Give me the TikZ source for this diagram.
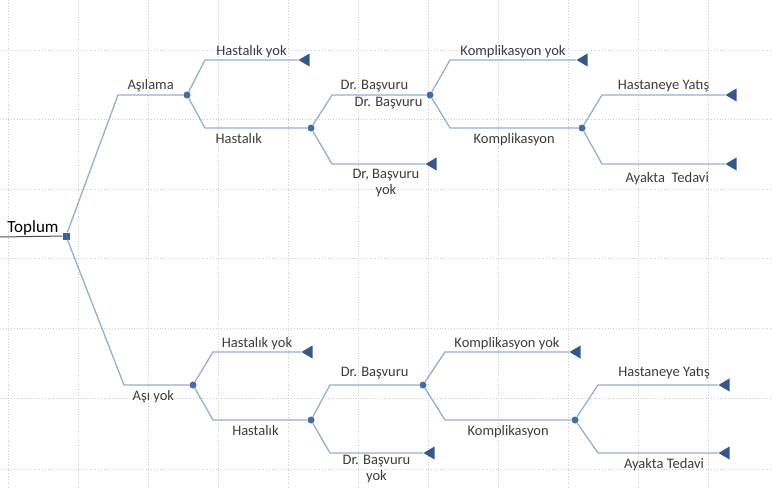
\documentclass[tikz,border=0pt]{standalone}
\usepackage{fontspec}
\setmainfont{Carlito}
\usetikzlibrary{shapes.geometric}
\definecolor{linecol}{RGB}{150,174,210}
\definecolor{dotcol}{RGB}{68,108,170}
\definecolor{tricol}{RGB}{52,88,140}
\definecolor{gridcol}{RGB}{205,205,205}
\definecolor{txtcol}{RGB}{60,60,60}
\tikzset{
  branch/.style={draw=linecol, line width=1.3pt},
  gridline/.style={draw=gridcol, dotted, line width=0.8pt},
  chance/.style={circle, fill=dotcol, inner sep=0pt, minimum size=7pt},
  rootbox/.style={rectangle, fill=dotcol!90!black, inner sep=0pt, minimum size=7pt},
  leaf/.style={isosceles triangle, shape border rotate=180, isosceles triangle stretches,
    fill=tricol, inner sep=0pt, minimum width=13pt, minimum height=11pt, anchor=apex},
  lbl/.style={font=\fontsize{14.5}{15.5}\selectfont, text=txtcol, inner sep=2pt},
}
\begin{document}
\begin{tikzpicture}[x=1pt,y=-1pt]
    \useasboundingbox (0,0) rectangle (772,488);
    % page grid
    \foreach \gx in {8,78,...,708}
        \draw[gridline] (\gx,0) -- (\gx,488);
    \foreach \gy in {50,119,189,258,328,398,469}
        \draw[gridline] (0,\gy) -- (772,\gy);

    % root
    \node[font=\fontsize{17}{18}\selectfont, inner sep=0pt] (toplum) at (33,228) {Toplum};
    \node[rootbox] (root) at (66,236) {};
    \coordinate (edge) at (0,237);
    \draw[gray!60!black, line width=1pt] (edge) -- (root);

    % upper tree: Asilama
    \node[chance] (a1) at (187,95) {};
    \node[leaf] (h1) at (298,60) {};
    \node[chance] (a2) at (311,128) {};
    \node[chance] (a3) at (430,95) {};
    \node[leaf] (h2) at (425,164) {};
    \node[leaf] (h3) at (576,60) {};
    \node[chance] (a4) at (582,128) {};
    \node[leaf] (h4) at (725,95) {};
    \node[leaf] (h5) at (725,164) {};

    \draw[branch] (root) -- ([xshift=-69pt]a1.center) -- node[lbl,above] {Aşılama} (a1);
    \draw[branch] (a1) -- ([xshift=18pt]a1.center |- h1.apex) -- node[lbl,above] {Hastalık yok} (h1.apex);
    \draw[branch] (a1) -- ([xshift=18pt]a1.center |- a2) -- node[lbl,below=3pt,pos=0.33] {Hastalık} (a2);
    \draw[branch] (a2) -- ([xshift=21pt]a2.center |- a3) -- node[lbl,above,pos=0.45] {Dr. Başvuru}
        node[lbl,below,pos=0.6] {Dr. Başvuru} (a3);
    \draw[branch] (a2) -- ([xshift=21pt]a2.center |- h2.apex) -- node[lbl,below=3pt,align=center,pos=0.58]
        {Dr, Başvuru\\yok} (h2.apex);
    \draw[branch] (a3) -- ([xshift=20pt]a3.center |- h3.apex) -- node[lbl,above] {Komplikasyon yok} (h3.apex);
    \draw[branch] (a3) -- ([xshift=20pt]a3.center |- a4) -- node[lbl,below=3pt] {Komplikasyon} (a4);
    \draw[branch] (a4) -- ([xshift=20pt]a4.center |- h4.apex) -- node[lbl,above] {Hastaneye Yatış} (h4.apex);
    \draw[branch] (a4) -- ([xshift=20pt]a4.center |- h5.apex) -- node[lbl,below=6pt,pos=0.53] {Ayakta\ \ Tedavi} (h5.apex);

    % lower tree: Asi yok
    \node[chance] (b1) at (193,385) {};
    \node[leaf] (u1) at (301,352) {};
    \node[chance] (b2) at (311,420) {};
    \node[chance] (b3) at (423,385) {};
    \node[leaf] (u2) at (423,453) {};
    \node[leaf] (u3) at (569,352) {};
    \node[chance] (b4) at (575,420) {};
    \node[leaf] (u4) at (718,385) {};
    \node[leaf] (u5) at (718,453) {};

    \draw[branch] (root) -- ([xshift=-69pt]b1.center) -- node[lbl,below=3pt,pos=0.45] {Aşı yok} (b1);
    \draw[branch] (b1) -- ([xshift=20pt]b1.center |- u1.apex) -- node[lbl,above] {Hastalık yok} (u1.apex);
    \draw[branch] (b1) -- ([xshift=20pt]b1.center |- b2) -- node[lbl,below=3pt,pos=0.45] {Hastalık} (b2);
    \draw[branch] (b2) -- ([xshift=19pt]b2.center |- b3) -- node[lbl,above=3pt] {Dr. Başvuru} (b3);
    \draw[branch] (b2) -- ([xshift=19pt]b2.center |- u2.apex) -- node[lbl,below,align=center]
        {Dr. Başvuru\\yok} (u2.apex);
    \draw[branch] (b3) -- ([xshift=22pt]b3.center |- u3.apex) -- node[lbl,above] {Komplikasyon yok} (u3.apex);
    \draw[branch] (b3) -- ([xshift=22pt]b3.center |- b4) -- node[lbl,below=3pt] {Komplikasyon} (b4);
    \draw[branch] (b4) -- ([xshift=23pt]b4.center |- u4.apex) -- node[lbl,above=3pt,pos=0.55] {Hastaneye Yatış} (u4.apex);
    \draw[branch] (b4) -- ([xshift=23pt]b4.center |- u5.apex) -- node[lbl,below=3pt,pos=0.55] {Ayakta Tedavi} (u5.apex);
\end{tikzpicture}
\end{document}
